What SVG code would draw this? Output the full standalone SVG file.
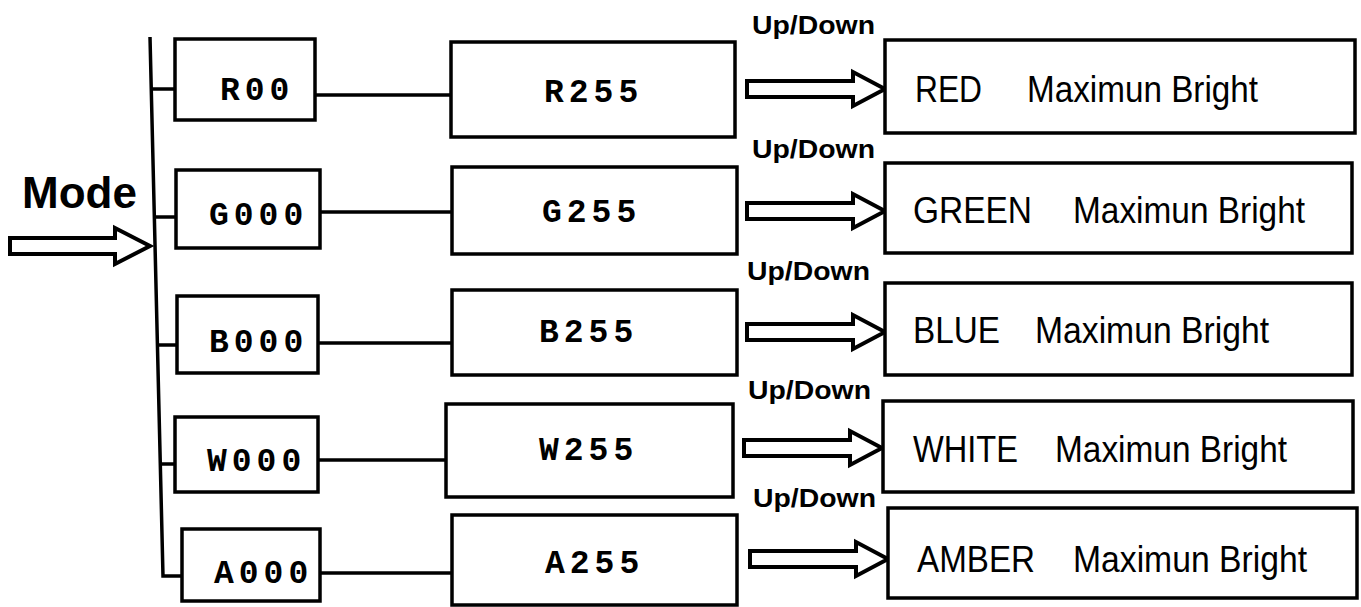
<svg xmlns="http://www.w3.org/2000/svg" xmlns:xlink="http://www.w3.org/1999/xlink" width="1361" height="607" viewBox="0 0 1361 607">
<style>
.box{fill:#fff;stroke:#000;stroke-width:3.5}
.ln{fill:none;stroke:#000;stroke-width:3.5}
.arr{fill:#fff;stroke:#000;stroke-width:4;stroke-linejoin:miter}
.code{font-family:"Liberation Mono","Courier New",monospace;font-weight:bold;font-size:33px;letter-spacing:5px;fill:#000}
.lab{font-family:"Liberation Sans",Arial,sans-serif;font-size:37px;fill:#000}
.ud{font-family:"Liberation Sans",Arial,sans-serif;font-weight:bold;font-size:26px;fill:#000}
.mode{font-family:"Liberation Sans",Arial,sans-serif;font-weight:bold;font-size:44px;fill:#000}
</style>
<defs>
<path id="harrow" d="M-138,-8 L-32,-8 L-32,-17 L0,0 L-32,17 L-32,8 L-138,8 Z"/>
</defs>
<rect width="1361" height="607" fill="#fff"/>

<g id="connectors">
<path class="ln" d="M150,37 L163,576 L182,576"/>
<line class="ln" x1="151" y1="89" x2="176" y2="89"/>
<line class="ln" x1="154" y1="217" x2="177" y2="217"/>
<line class="ln" x1="157" y1="345" x2="178" y2="345"/>
<line class="ln" x1="160" y1="464" x2="176" y2="464"/>
<line class="ln" x1="315" y1="95" x2="451" y2="95"/>
<line class="ln" x1="320" y1="212" x2="452" y2="212"/>
<line class="ln" x1="318" y1="343" x2="452" y2="343"/>
<line class="ln" x1="318" y1="460" x2="446" y2="460"/>
<line class="ln" x1="320" y1="573" x2="452" y2="573"/>
<path class="arr" d="M10,238 L115,238 L115,228 L150,246 L115,264 L115,254 L10,254 Z"/>
<use xlink:href="#harrow" href="#harrow" class="arr" transform="translate(885,89)"/>
<use xlink:href="#harrow" href="#harrow" class="arr" transform="translate(885,211)"/>
<use xlink:href="#harrow" href="#harrow" class="arr" transform="translate(885,332)"/>
<use xlink:href="#harrow" href="#harrow" class="arr" transform="translate(882,448)"/>
<use xlink:href="#harrow" href="#harrow" class="arr" transform="translate(888,559)"/>
<text class="ud" x="752" y="34" textLength="123" lengthAdjust="spacingAndGlyphs">Up/Down</text>
<text class="ud" x="752" y="158" textLength="123" lengthAdjust="spacingAndGlyphs">Up/Down</text>
<text class="ud" x="747" y="280" textLength="123" lengthAdjust="spacingAndGlyphs">Up/Down</text>
<text class="ud" x="748" y="399" textLength="123" lengthAdjust="spacingAndGlyphs">Up/Down</text>
<text class="ud" x="753" y="507" textLength="123" lengthAdjust="spacingAndGlyphs">Up/Down</text>
</g>

<g id="mode"><text class="mode" x="22" y="208">Mode</text></g>

<g id="r00"><rect class="box" x="175" y="39" width="140" height="81"/><text class="code" x="220" y="100">R00</text></g>
<g id="g000"><rect class="box" x="176" y="170" width="144" height="78"/><text class="code" x="209" y="225">G000</text></g>
<g id="b000"><rect class="box" x="177" y="296" width="141" height="77"/><text class="code" x="209" y="352">B000</text></g>
<g id="w000"><rect class="box" x="175" y="417" width="143" height="75"/><text class="code" x="207" y="471">W000</text></g>
<g id="a000"><rect class="box" x="182" y="529" width="138" height="72"/><text class="code" x="214" y="583">A000</text></g>

<g id="r255"><rect class="box" x="451" y="42" width="284" height="95"/><text class="code" x="544" y="102">R255</text></g>
<g id="g255"><rect class="box" x="452" y="167" width="285" height="87"/><text class="code" x="542" y="222">G255</text></g>
<g id="b255"><rect class="box" x="452" y="290" width="285" height="85"/><text class="code" x="539" y="342">B255</text></g>
<g id="w255"><rect class="box" x="446" y="404" width="287" height="93"/><text class="code" x="539" y="460">W255</text></g>
<g id="a255"><rect class="box" x="452" y="515" width="285" height="90"/><text class="code" x="545" y="573">A255</text></g>

<g id="red"><rect class="box" x="885" y="40" width="470" height="93"/><text class="lab" x="915" y="102" textLength="67" lengthAdjust="spacingAndGlyphs">RED</text><text class="lab" x="1027" y="102" textLength="231" lengthAdjust="spacingAndGlyphs">Maximun Bright</text></g>
<g id="green"><rect class="box" x="885" y="163" width="467" height="90"/><text class="lab" x="913" y="223" textLength="119" lengthAdjust="spacingAndGlyphs">GREEN</text><text class="lab" x="1073" y="223" textLength="232" lengthAdjust="spacingAndGlyphs">Maximun Bright</text></g>
<g id="blue"><rect class="box" x="885" y="283" width="467" height="92"/><text class="lab" x="913" y="343" textLength="87" lengthAdjust="spacingAndGlyphs">BLUE</text><text class="lab" x="1035" y="343" textLength="234" lengthAdjust="spacingAndGlyphs">Maximun Bright</text></g>
<g id="white"><rect class="box" x="883" y="401" width="470" height="91"/><text class="lab" x="913" y="462" textLength="105" lengthAdjust="spacingAndGlyphs">WHITE</text><text class="lab" x="1055" y="462" textLength="232" lengthAdjust="spacingAndGlyphs">Maximun Bright</text></g>
<g id="amber"><rect class="box" x="888" y="508" width="469" height="90"/><text class="lab" x="917" y="572" textLength="118" lengthAdjust="spacingAndGlyphs">AMBER</text><text class="lab" x="1073" y="572" textLength="234" lengthAdjust="spacingAndGlyphs">Maximun Bright</text></g>
</svg>
